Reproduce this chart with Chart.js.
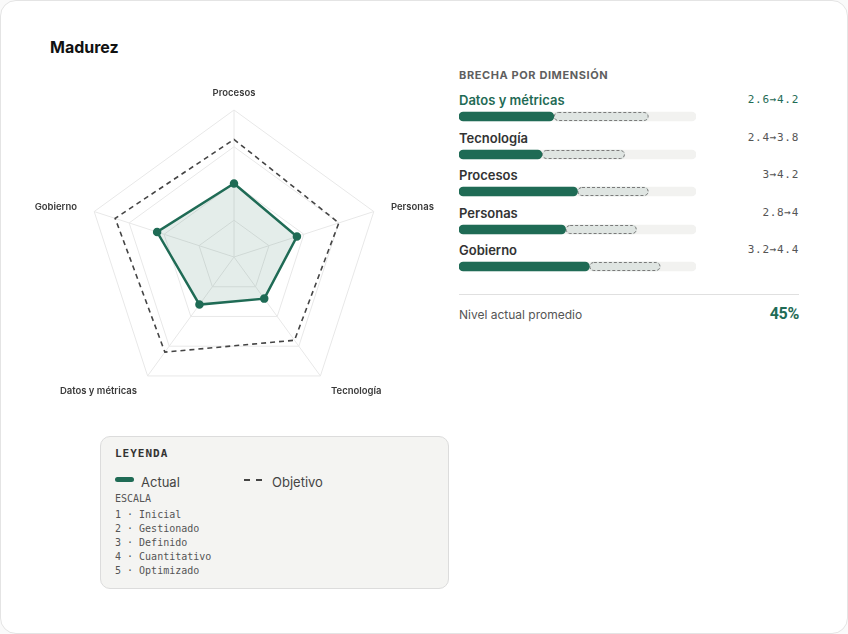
<!DOCTYPE html>
<html><head><meta charset="utf-8">
<script src="https://cdn.jsdelivr.net/npm/chart.js@4.4.1/dist/chart.umd.min.js"></script>
<style>
html,body{margin:0;padding:0;background:#fafafa;}
body{width:848px;height:634px;position:relative;font-family:Inter,"Noto Sans",sans-serif;}
.card{position:absolute;left:0;top:0;width:846px;height:632px;background:#fff;border:1px solid #e4e4e4;border-radius:16px;}
.title{position:absolute;left:50px;top:37px;font-size:16px;font-weight:700;color:#111;}
#radarBox{position:absolute;left:20px;top:80px;width:430px;height:330px;}
.panel{position:absolute;left:459px;top:68px;width:340px;}
.ph{font-size:11px;font-weight:700;letter-spacing:0.6px;color:#5f5f5f;height:23px;}
.row{position:relative;height:37.5px;}
.row .lab{position:absolute;left:0;top:0;font-size:13px;font-weight:600;color:#333;line-height:18px;}
.row .val{position:absolute;right:0;top:0;font-family:"DejaVu Sans Mono",monospace;font-size:11px;color:#555;line-height:18px;letter-spacing:0.7px;}
.row.hl .lab,.row.hl .val{color:#1f6b55;}
.row .bar{position:absolute;left:0;top:19px;width:237px;height:13px;}
.divider{position:absolute;left:459px;top:294px;width:340px;border-top:1px solid #e0e0e0;}
.avgl{position:absolute;left:459px;top:307px;font-size:12px;color:#555;}
.avgv{position:absolute;right:49px;top:304px;font-family:Roboto,Inter,sans-serif;font-size:16px;font-weight:700;color:#1f6b55;letter-spacing:-0.3px;}
.legend{position:absolute;left:100px;top:436px;width:347px;height:151px;background:#f4f4f2;border:1px solid #dcdcdc;border-radius:10px;}
.lt{position:absolute;left:14px;top:10px;font-family:"DejaVu Sans Mono",monospace;font-weight:700;font-size:11px;letter-spacing:1px;color:#333;}
.li{position:absolute;top:37px;font-size:13px;color:#444;font-family:Inter,sans-serif;}
.sw{position:absolute;top:40px;width:19px;}
.sc{position:absolute;left:14px;top:55px;font-family:"DejaVu Sans Mono",monospace;font-size:10px;color:#555;line-height:14px;}
</style></head>
<body>
<div class="card"></div>
<div class="title">Madurez</div>
<div id="radarBox"><canvas id="radar"></canvas></div>
<div class="panel">
  <div class="ph">BRECHA POR DIMENSIÓN</div>
  <div id="rows"></div>
</div>
<div class="divider"></div>
<div class="avgl">Nivel actual promedio</div>
<div class="avgv" id="avg"></div>
<div class="legend">
  <div class="lt">LEYENDA</div>
  <div class="sw" style="left:14px;height:5px;border-radius:3px;background:#1f6b55;top:40px;"></div>
  <div class="li" style="left:40px;">Actual</div>
  <div class="sw" style="left:143px;border-top:2px dashed #444;top:42px;width:18px;"></div>
  <div class="li" style="left:171px;">Objetivo</div>
  <div class="sc" id="scale"></div>
</div>
<script>
const dims = ["Procesos","Personas","Tecnología","Datos y métricas","Gobierno"];
const actual = [3, 2.8, 2.4, 2.6, 3.2];
const objetivo = [4.2, 4, 3.8, 4.2, 4.4];
const gapOrder = ["Datos y métricas","Tecnología","Procesos","Personas","Gobierno"];
const scaleLabels = ["Inicial","Gestionado","Definido","Cuantitativo","Optimizado"];
const scaleMin = 1, scaleMax = 5;

const green = "#1f6b55";

// draws the axis names next to the scale's own point positions
const pointLabelPlugin = {
  id: "pointLabelsOut",
  afterDraw(chart) {
    const r = chart.scales.r;
    const ctx = chart.ctx;
    ctx.save();
    ctx.font = "600 9.5px Inter";
    ctx.fillStyle = "#3a3a3a";
    ctx.textBaseline = "middle";
    chart.data.labels.forEach((lab, i) => {
      const p = r.getPointPosition(i, r.drawingArea + 18);
      const dx = p.x - r.xCenter;
      ctx.textAlign = Math.abs(dx) < 2 ? "center" : (dx > 0 ? "left" : "right");
      ctx.fillText(lab, p.x, p.y + 1);
    });
    ctx.restore();
  }
};

new Chart(document.getElementById("radar"), {
  type: "radar",
  data: {
    labels: dims,
    datasets: [
      {label:"Actual", data: actual, borderColor: green, backgroundColor: "rgba(31,107,85,0.12)", borderWidth: 2.5,
       pointRadius: 3, pointBackgroundColor: green, pointBorderColor: green, fill: true},
      {label:"Objetivo", data: objetivo, borderColor: "#444", borderDash:[5,4], borderWidth: 1.6,
       pointRadius: 0, fill: false, backgroundColor: "transparent"}
    ]
  },
  options: {
    responsive: true, maintainAspectRatio: false, animation: false,
    layout: {padding: {left: 67, right: 69, top: 30, bottom: 6}},
    plugins: {legend:{display:false}, tooltip:{enabled:false}},
    scales: {
      r: {
        min: scaleMin, max: scaleMax,
        ticks: {display:false, stepSize:1},
        grid: {color:"#e8e8e8", lineWidth:1},
        angleLines: {color:"#e8e8e8", lineWidth:1},
        pointLabels: {display:false}
      }
    }
  },
  plugins: [pointLabelPlugin]
});

// dashed outline around the target segment
const dashedTarget = {
  id: "dashedTarget",
  afterDatasetDraw(chart, args) {
    if (args.index !== 1) return;
    const el = args.meta.data[0];
    const {x, y, base, height} = el.getProps(["x","y","base","height"], true);
    const ctx = chart.ctx;
    ctx.save();
    ctx.strokeStyle = "#7a7a7a";
    ctx.lineWidth = 1;
    ctx.setLineDash([3, 2]);
    ctx.beginPath();
    ctx.roundRect(Math.min(x, base) + 0.5, y - height/2 + 0.5, Math.abs(x - base) - 1, height - 1, 4.5);
    ctx.stroke();
    ctx.restore();
  }
};

const rowsEl = document.getElementById("rows");
gapOrder.forEach((name, i) => {
  const k = dims.indexOf(name);
  const row = document.createElement("div");
  row.className = "row" + (i === 0 ? " hl" : "");
  row.innerHTML = `<div class="lab">${name}</div><div class="val">${actual[k]}→${objetivo[k]}</div><div class="bar"><canvas></canvas></div>`;
  rowsEl.appendChild(row);
  new Chart(row.querySelector("canvas"), {
    type: "bar",
    data: {
      labels: [name],
      datasets: [
        {data: [[scaleMin, actual[k]]], backgroundColor: green, borderRadius: 5, borderSkipped: false, grouped: false, barThickness: 9},
        {data: [[actual[k], objetivo[k]]], backgroundColor: "#dfe5e2", borderRadius: 5, borderSkipped: false, grouped: false, barThickness: 9},
        {data: [[scaleMin, scaleMax]], backgroundColor: "#f2f2f0", borderRadius: 5, borderSkipped: false, grouped: false, barThickness: 9}
      ]
    },
    options: {
      indexAxis: "y", responsive: true, maintainAspectRatio: false, animation: false,
      layout: {padding: 0},
      plugins: {legend:{display:false}, tooltip:{enabled:false}},
      scales: {x:{min:scaleMin, max:scaleMax, display:false}, y:{display:false}}
    },
    plugins: [dashedTarget]
  });
});

const avg = actual.reduce((a,b)=>a+b,0)/actual.length;
document.getElementById("avg").textContent = Math.round((avg-scaleMin)/(scaleMax-scaleMin)*100) + "%";
document.getElementById("scale").innerHTML = "<div style='margin-bottom:2px'>ESCALA</div>" +
  scaleLabels.map((s,i)=>`${i+1} · ${s}`).join("<br>");
</script>
</body></html>
